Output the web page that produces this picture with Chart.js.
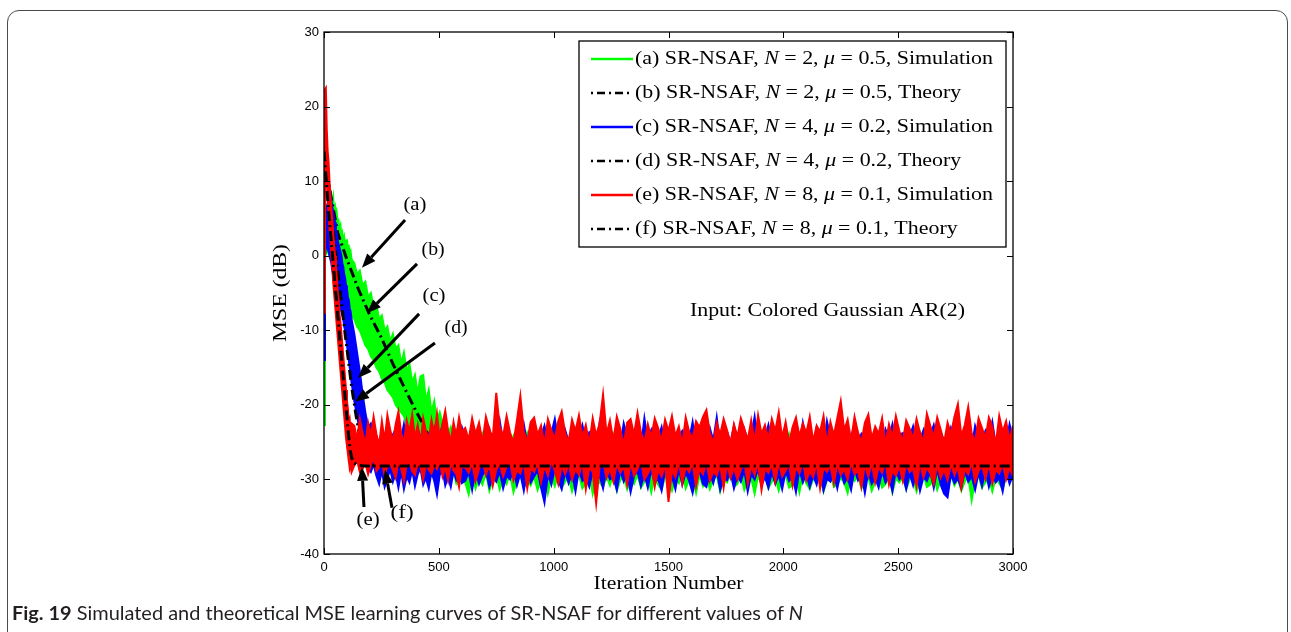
<!DOCTYPE html>
<html>
<head>
<meta charset="utf-8">
<script src="https://cdn.jsdelivr.net/npm/chart.js@4.4.1/dist/chart.umd.min.js"></script>
<style>
  html, body { margin: 0; padding: 0; background: #fff; }
  body { width: 1291px; height: 632px; overflow: hidden; position: relative; }
  .frame { position: absolute; left: 7px; top: 10px; width: 1281px; height: 700px;
           border: 1px solid #4a4a4a; border-radius: 12px; box-sizing: border-box; }
  #wrap { position: absolute; left: 0; top: 0; width: 1291px; height: 632px; }
  .caption { position: absolute; left: 12px; top: 601px; white-space: nowrap; color: #231f20;
             font-family: Lato, "Open Sans", "Liberation Sans", sans-serif; font-size: 19px;
             transform-origin: 0 50%; }
  .caption b { font-weight: bold; }
</style>
</head>
<body>
<div class="frame"></div>
<div id="wrap"><canvas id="chart" width="1291" height="632"></canvas></div>
<div class="caption" id="caption"><b>Fig. 19</b> Simulated and theoretical MSE learning curves of SR-NSAF for different values of <i>N</i></div>

<script>
// Iteration grid shared by the simulated curves: fine near the start, coarser later.
const iterSegments = [[0, 120, 4], [120, 600, 12], [600, 3000, 15]];
const iterations = [0];
for (const [a, b, step] of iterSegments) {
  for (let it = a + step; it <= b; it += step) iterations.push(it);
}

// Simulated curves are drawn as noise bands: upper and lower envelope (dB) per iteration.
// (a) SR-NSAF, N = 2, mu = 0.5, Simulation
const simAHigh = [
  -22.7,
  5, 6, 6.5, 7, 6.5, 7, 7.5, 6.5, 7, 7.8,
  6, 6.5, 5, 5.5, 4, 4.5, 3.5, 4, 2.5, 3,
  2, 2.5, 1.5, 2, 2.2, 1, 1.2, 0, 0.5, -0.5,
  -1, -2.5, -2, -4, -3.5, -5.5, -5, -7, -6.5, -8.5,
  -8, -10, -9.5, -11.5, -10.5, -12.5, -12, -14.5, -13, -15.5,
  -14.5, -17, -16, -18.5, -16.2, -16, -19.5, -18, -21, -19.5,
  -22, -21, -22.5, -22, -24, -23, -24.5, -23.5, -25, -24,
  -25.1, -24.3, -26.0, -24.8, -25.6, -23.9, -25.3, -24.6, -26.2, -24.0,
  -25.4, -24.7, -23.6, -25.9, -24.2, -25.5, -24.9, -26.1, -23.8, -25.2,
  -24.5, -25.8, -24.1, -26.3, -24.8, -25.0, -23.7, -25.7, -24.4, -26.0,
  -24.6, -25.3, -23.9, -25.8, -24.3, -26.2, -25.0, -24.2, -25.6, -23.8,
  -25.2, -24.7, -26.1, -24.0, -25.5, -24.9, -26.4, -23.6, -25.1, -24.5,
  -25.9, -24.2, -25.4, -23.8, -26.0, -24.6, -25.3, -24.1, -25.7, -24.8,
  -26.2, -24.4, -25.0, -23.9, -25.6, -24.7, -26.1, -24.3, -25.2, -24.0,
  -25.8, -24.6, -26.3, -24.1, -25.4, -23.7, -25.9, -24.8, -25.1, -24.2,
  -26.0, -24.5, -25.3, -23.8, -25.7, -24.9, -26.2, -24.0, -25.5, -24.6,
  -25.0, -26.1, -24.3, -25.6, -23.9, -25.8, -24.7, -26.3, -24.1, -25.2,
  -24.6, -25.9, -24.0, -25.4, -26.2, -24.4, -25.1, -23.7, -25.8, -24.8,
  -26.0, -24.2, -25.5, -24.9, -23.8, -25.7, -24.5, -26.1, -24.3, -25.3,
  -24.7, -25.9, -24.1, -26.3, -24.8, -25.0, -23.9, -25.6, -24.4, -26.0,
  -24.6, -25.2, -23.8, -25.8, -24.3, -26.1, -24.9, -25.4, -24.0, -25.7,
  -26.2, -24.5, -25.1, -23.9, -25.6, -24.7, -26.0, -24.2, -25.3, -24.8,
  -25.5, -24.1, -26.2, -24.6, -25.0, -23.8, -25.9, -24.4, -25.6, -24.9
];
const simALow = [
  -22.7,
  0, 1, 0.5, 1, 0.5, 0, 0.5, -0.5, -1, -0.5,
  -1.5, -2, -2.5, -2, -3, -3.5, -4, -3.5, -4.5, -4,
  -5, -4.5, -5.5, -5, -6, -6.5, -6, -7, -7.5, -8,
  -8.5, -9.5, -10, -11, -12, -12.5, -13.5, -14, -15, -15.5,
  -16.5, -17, -18, -18.5, -19, -20, -20.5, -21, -21.5, -22.5,
  -23, -23.5, -24, -24.5, -25, -25.5, -26, -26.5, -27, -27.5,
  -28, -28.5, -29, -29, -29.5, -30, -29, -30.5, -29.5, -30,
  -30.4, -32.0, -29.3, -31.2, -29.8, -30.7, -29.1, -31.5, -30.0, -29.5,
  -31.3, -29.7, -30.6, -29.2, -31.7, -30.1, -29.4, -31.0, -29.9, -30.8,
  -29.6, -31.4, -30.2, -29.0, -31.8, -29.5, -30.9, -29.3, -31.1, -30.3,
  -29.7, -31.6, -30.0, -29.4, -31.2, -30.5, -29.1, -31.9, -29.8, -30.4,
  -31.0, -29.6, -30.8, -29.2, -31.5, -30.1, -29.5, -31.3, -29.9, -30.6,
  -29.4, -31.1, -30.3, -29.7, -31.7, -29.3, -30.7, -31.4, -29.6, -30.2,
  -31.5, -29.8, -30.5, -29.1, -31.2, -30.0, -29.7, -31.8, -29.4, -30.9,
  -29.6, -31.3, -30.1, -29.5, -31.6, -29.9, -30.4, -29.2, -31.0, -30.6,
  -29.3, -31.4, -30.2, -29.8, -31.9, -29.5, -30.7, -29.1, -31.2, -30.3,
  -29.7, -31.5, -30.0, -29.4, -31.1, -30.8, -29.6, -31.7, -29.2, -30.5,
  -31.3, -29.9, -30.3, -29.5, -31.6, -30.1, -29.3, -31.0, -30.7, -29.8,
  -30.4, -31.8, -29.6, -30.2, -29.4, -31.2, -30.0, -29.7, -31.5, -30.3,
  -29.5, -31.1, -30.6, -29.2, -31.7, -29.9, -30.4, -29.6, -31.3, -30.0,
  -29.8, -31.6, -30.2, -29.3, -31.0, -30.7, -29.5, -31.4, -30.1, -29.7,
  -31.2, -29.4, -30.8, -29.9, -31.5, -30.3, -29.6, -32.8, -30.0, -29.5,
  -31.1, -30.4, -29.7, -31.6, -29.8, -30.5, -31.3, -29.4, -30.2, -29.9
];

// (c) SR-NSAF, N = 4, mu = 0.2, Simulation
const simCHigh = [
  -14,
  5, 6, 6.5, 7, 7.5, 8, 8.5, 7.5, 6.5, 6,
  5, 4.5, 3.5, 3, 2, 1.5, 1, 0.5, 0, -1,
  -1.5, -2.5, -3, -4, -4.5, -5.5, -6, -7, -7.5, -8.5,
  -10.5, -13, -15.5, -18.5, -21, -23, -22.5, -24,
  -24.2, -25.5, -23.6, -24.9, -22.8, -25.8, -24.0, -23.3, -25.2, -24.6,
  -22.6, -25.0, -23.8, -24.4, -25.6, -23.1, -24.7, -22.9, -25.3, -23.9,
  -24.5, -23.2, -25.7, -24.1, -22.7, -25.1, -23.7, -24.8, -23.4, -25.4, -24.3, -23.0,
  -24.4, -25.6, -23.5, -24.8, -22.9, -25.3, -24.1, -23.2, -25.8, -24.5,
  -22.1, -25.0, -23.9, -24.6, -25.5, -23.3, -24.9, -22.6, -25.2, -24.0,
  -23.6, -25.7, -24.3, -22.8, -25.1, -23.8, -21.9, -24.7, -25.4, -23.4,
  -24.9, -23.1, -25.6, -24.2, -22.7, -25.0, -23.7, -24.4, -25.9, -22.4,
  -24.6, -25.3, -23.2, -24.8, -23.9, -25.5, -22.5, -24.3, -25.1, -23.6,
  -24.0, -25.7, -21.8, -24.9, -23.4, -25.2, -24.5, -23.0, -25.8, -24.2,
  -22.9, -25.4, -24.1, -23.5, -25.0, -24.7, -22.3, -25.6, -23.8, -24.4,
  -25.3, -23.1, -24.8, -21.7, -25.5, -24.0, -23.6, -25.1, -22.8, -24.6,
  -25.7, -23.3, -24.9, -24.2, -21.6, -25.4, -23.9, -24.5, -22.7, -25.0,
  -23.4, -25.8, -24.3, -22.9, -25.2, -24.0, -23.5, -25.6, -22.4, -24.8,
  -24.1, -25.3, -23.0, -24.7, -25.9, -22.2, -24.4, -23.7, -25.1, -24.6,
  -23.2, -25.5, -24.2, -22.8, -25.0, -23.9, -24.6, -21.9, -25.4, -23.6,
  -24.8, -25.7, -23.3, -24.5, -22.6, -25.1, -24.0, -23.8, -25.6, -24.3,
  -22.9, -25.2, -24.7, -23.4, -25.8, -24.1, -22.7, -25.0, -23.6, -24.9,
  -25.5, -23.1, -24.4, -22.5, -25.3, -24.8, -23.7, -25.9, -22.8, -24.2,
  -25.0, -23.5, -24.6, -22.3, -25.4, -23.9, -24.7, -25.2, -22.6, -24.5
];
const simCLow = [
  -14,
  0, 1, 1.5, 1, 0.5, 0, -0.5, -1, -2, -2.5,
  -3, -4, -4.5, -5, -5.5, -6, -6.5, -7, -7.5, -8,
  -8.5, -9.5, -10, -11, -12, -13, -14, -15, -16, -17,
  -19.5, -21.5, -23.5, -25.5, -27, -28.5, -29, -28,
  -29.5, -30.6, -28.8, -31.0, -29.9, -28.6, -30.3, -29.2, -31.1, -28.9,
  -31.3, -29.6, -30.4, -28.7, -30.9, -29.3, -28.5, -30.7, -29.8, -31.2,
  -29.0, -30.2, -32.0, -29.4, -28.6, -30.8, -29.7, -31.0, -28.9, -30.1, -29.5, -30.5,
  -30.2, -29.0, -31.4, -28.7, -30.6, -29.4, -28.8, -31.0, -29.7, -30.3,
  -28.9, -31.2, -29.5, -30.0, -28.6, -30.8, -29.2, -31.5, -28.9, -30.4,
  -29.6, -28.8, -31.1, -33.1, -29.3, -30.7, -28.5, -30.1, -31.3, -29.0,
  -30.5, -29.1, -31.6, -28.7, -30.2, -29.8, -31.0, -28.9, -30.6, -29.4,
  -31.2, -28.6, -30.0, -29.7, -31.4, -28.8, -30.3, -29.2, -31.7, -29.5,
  -28.9, -30.9, -29.3, -31.1, -28.7, -30.4, -29.9, -31.5, -28.8, -30.1,
  -29.6, -31.3, -28.6, -30.7, -29.1, -30.2, -31.8, -29.4, -28.9, -30.6,
  -31.0, -29.2, -30.5, -28.7, -31.4, -29.8, -30.1, -28.9, -31.2, -29.5,
  -30.3, -28.8, -31.6, -29.3, -30.0, -28.6, -30.8, -29.7, -31.1, -29.0,
  -30.6, -29.4, -31.3, -28.9, -30.2, -29.6, -31.7, -28.7, -30.4, -29.1,
  -31.0, -29.5, -30.7, -28.8, -31.5, -29.9, -30.3, -29.2, -31.2, -28.9,
  -30.5, -29.7, -31.4, -28.6, -30.1, -29.3, -31.8, -29.0, -30.6, -29.8,
  -31.1, -28.9, -30.4, -29.6, -31.6, -28.7, -30.0, -29.4, -31.3, -29.2,
  -30.8, -28.8, -31.5, -29.7, -30.2, -29.0, -31.1, -28.6, -30.7, -31.9,
  -32.4, -29.3, -30.5, -29.9, -31.2, -28.9, -30.3, -29.6, -31.4, -29.1,
  -30.9, -28.7, -31.0, -29.5, -30.4, -29.8, -31.6, -28.9, -30.6, -29.4
];

// (e) SR-NSAF, N = 8, mu = 0.1, Simulation
const simEHigh = [
  -7.6,
  22.3, 22.5, 17, 14, 12.5, 10, 8, 6.5, 5, 3,
  1.5, 0, -1.5, -3, -5, -6, -8, -9, -10.5, -12,
  -13.5, -15, -16.5, -18, -19.5, -20.5, -22.5, -22, -23.5, -22.5,
  -22.8, -24.6, -21.9, -23.7, -25.2, -22.4, -24.1, -21.6, -23.9, -25.4,
  -22.2, -24.8, -21.4, -23.3, -24.9, -22.6, -20.9, -23.8, -25.1, -22.1,
  -23.6, -21.3, -24.4, -22.7, -25.3, -21.8, -23.5, -24.7, -22.0, -23.9,
  -21.2, -24.5, -22.5, -20.8, -23.4, -25.0, -22.3, -24.2, -21.7, -23.6,
  -23.1, -24.7, -21.8, -23.9, -22.4, -25.0, -21.6, -23.3, -24.4, -18.4,
  -22.9, -24.2, -21.5, -23.7, -25.1, -22.1, -18.8, -23.6, -24.9, -22.3,
  -21.7, -24.0, -22.8, -25.3, -21.9, -23.4, -24.6, -22.2, -20.9, -23.8,
  -25.0, -22.0, -23.5, -21.4, -24.3, -22.7, -25.2, -21.8, -24.1, -22.5,
  -18.6, -23.9, -22.1, -24.8, -21.6, -23.2, -25.4, -22.4, -21.9, -24.0,
  -21.1, -23.7, -25.0, -22.6, -24.4, -21.8, -23.1, -24.9, -22.0, -23.5,
  -21.5, -24.2, -22.9, -25.3, -21.7, -23.6, -24.5, -22.2, -23.0, -21.6,
  -20.7, -23.8, -25.1, -22.4, -24.0, -21.9, -23.4, -25.2, -22.6, -24.3,
  -21.8, -23.2, -24.7, -22.1, -25.0, -21.4, -23.9, -22.7, -24.6, -21.9,
  -23.5, -21.0, -24.4, -22.3, -25.1, -23.0, -21.7, -24.2, -22.5, -23.8,
  -21.6, -24.9, -22.8, -23.6, -21.5, -25.2, -22.3, -24.1, -21.8, -19.5,
  -23.4, -22.0, -24.8, -21.6, -23.7, -25.0, -22.4, -21.3, -24.5, -22.9,
  -23.9, -21.8, -25.2, -22.6, -24.3, -21.5, -23.5, -24.9, -22.1, -23.2,
  -24.6, -21.9, -23.7, -25.0, -21.2, -22.8, -24.4, -21.7, -23.3, -25.1,
  -22.4, -23.9, -21.6, -19.9, -24.2, -22.7, -20.3, -23.8, -25.0, -21.8,
  -23.1, -24.5, -21.7, -22.9, -25.3, -21.5, -23.6, -22.2, -24.7, -22.8
];
const simELow = [
  -7.6,
  15, 12, 10, 7.5, 5.5, 3.5, 2, 0, -1.5, -3.5,
  -5, -6.5, -8, -9.5, -11, -12.5, -14, -15.5, -17, -18.5,
  -20, -21.5, -23, -24.5, -25.5, -26.5, -27.5, -28.5, -28, -29,
  -28.1, -27.4, -29.0, -28.6, -27.8, -29.3, -28.0, -27.2, -28.9, -28.4,
  -27.6, -29.5, -28.2, -27.9, -28.8, -29.8, -27.5, -28.5, -30.2, -28.0,
  -27.7, -28.9, -29.4, -27.8, -28.3, -30.0, -27.9, -28.7, -29.2, -28.1,
  -28.6, -27.5, -29.6, -28.4, -30.1, -27.7, -28.8, -29.3, -31.0, -28.2,
  -28.4, -29.1, -27.8, -30.2, -28.6, -27.5, -29.4, -28.0, -30.8, -28.7,
  -27.9, -29.6, -28.3, -27.6, -30.1, -28.8, -29.2, -27.7, -31.2, -28.5,
  -29.0, -27.8, -30.4, -28.2, -29.5, -27.4, -28.9, -30.6, -28.1, -29.3,
  -27.9, -30.0, -28.6, -29.4, -27.7, -31.3, -28.4, -29.0, -33.2, -28.3,
  -27.6, -29.8, -28.5, -30.3, -27.9, -29.1, -28.2, -30.7, -27.8, -29.5,
  -28.6, -27.5, -30.0, -29.2, -28.1, -31.0, -28.7, -29.6, -27.9, -33.0,
  -28.8, -29.7, -27.6, -30.5, -28.3, -29.0, -27.8, -30.9, -28.6, -29.3,
  -27.7, -30.2, -28.9, -29.5, -28.0, -31.1, -27.9, -29.8, -28.4, -30.0,
  -28.7, -27.6, -30.6, -28.2, -29.4, -27.8, -31.4, -28.5, -29.1, -28.0,
  -30.3, -27.7, -29.6, -28.8, -27.9, -30.8, -28.3, -29.2, -27.6, -30.1,
  -28.9, -29.7, -27.8, -31.2, -28.4, -29.0, -28.1, -30.5, -27.9, -29.4,
  -28.6, -30.0, -27.7, -29.3, -28.8, -31.0, -28.0, -29.6, -27.8, -30.4,
  -28.3, -29.1, -27.6, -30.7, -28.9, -29.5, -28.2, -30.2, -27.9, -29.0,
  -28.5, -30.9, -27.8, -29.7, -28.4, -29.2, -30.6, -28.0, -29.8, -28.7,
  -30.1, -27.9, -29.4, -28.3, -31.1, -28.6, -29.3, -27.7, -30.3, -28.9,
  -28.1, -29.9, -27.8, -30.5, -28.7, -29.2, -27.9, -30.0, -28.4, -29.6
];

// Theoretical learning curves (b), (d), (f)
const theoryIterB = [0, 30, 60, 100, 150, 200, 250, 300, 350, 400, 430, 460, 490, 520, 560, 600, 3000];
const theoryB     = [14, 8, 3, -0.5, -4.5, -8, -11, -14.5, -17.7, -20.8, -22.5, -24.5, -26.3, -27.6, -28.1, -28.2, -28.2];
const theoryIterD = [0, 30, 60, 90, 120, 140, 160, 180, 200, 230, 3000];
const theoryD     = [14, 6, -2, -10, -17.5, -21.5, -25, -27.2, -28, -28.2, -28.2];
const theoryIterF = [0, 20, 40, 60, 80, 95, 105, 115, 125, 145, 180, 3000];
const theoryF     = [14, 6, -1, -8, -15, -20, -23.5, -26.3, -27.6, -28.1, -28.2, -28.2];

// Axis ticks
const xTicks = [0, 500, 1000, 1500, 2000, 2500, 3000];
const yTicks = [-40, -30, -20, -10, 0, 10, 20, 30];

// Legend text: [text, italic]
const legendLabels = [
  [["(a) SR-NSAF, ", 0], ["N", 1], [" = 2, ", 0], ["\u03BC", 1], [" = 0.5, Simulation", 0]],
  [["(b) SR-NSAF, ", 0], ["N", 1], [" = 2, ", 0], ["\u03BC", 1], [" = 0.5, Theory", 0]],
  [["(c) SR-NSAF, ", 0], ["N", 1], [" = 4, ", 0], ["\u03BC", 1], [" = 0.2, Simulation", 0]],
  [["(d) SR-NSAF, ", 0], ["N", 1], [" = 4, ", 0], ["\u03BC", 1], [" = 0.2, Theory", 0]],
  [["(e) SR-NSAF, ", 0], ["N", 1], [" = 8, ", 0], ["\u03BC", 1], [" = 0.1, Simulation", 0]],
  [["(f) SR-NSAF, ", 0], ["N", 1], [" = 8, ", 0], ["\u03BC", 1], [" = 0.1, Theory", 0]]
];
const legendKeys = ["a", "b", "c", "d", "e", "f"];

// Curve callouts in data units: label position, arrow tail, arrow tip
const callouts = [
  { text: "(a)", label: [396, 6.8],   tail: [353, 4.8],   tip: [165, -1.6] },
  { text: "(b)", label: [475, 0.8],   tail: [405, -1.1],  tip: [187, -7.7] },
  { text: "(c)", label: [479, -5.4],  tail: [414, -7.8],  tip: [148, -16.4] },
  { text: "(d)", label: [575, -9.7],  tail: [483, -11.7], tip: [135, -19.6] },
  { text: "(e)", label: [192, -35.4], tail: [174, -33.7], tip: [165, -28.3] },
  { text: "(f)", label: [340, -34.5], tail: [296, -33.8], tip: [266, -28.7] }
];
const noteText = "Input: Colored Gaussian AR(2)";
const notePos = [2192, -7.4];

const SERIF = '"Liberation Serif", "DejaVu Serif", serif';
const SANS = '"Liberation Sans", Arial, sans-serif';
const DASHDOT = [10, 4, 2, 4];

const pts = (xs, ys) => xs.map((x, i) => ({ x: x, y: ys[i] }));

function band(key, high, low, color, order) {
  return [
    { key: key, data: pts(iterations, high), borderColor: color, backgroundColor: color,
      borderWidth: 2, fill: "+1", order: order },
    { key: null, data: pts(iterations, low), borderColor: color, borderWidth: 2, fill: false, order: order }
  ];
}
function theory(key, xs, ys, order) {
  return { key: key, data: pts(xs, ys), borderColor: "#000", borderWidth: 3, borderDash: DASHDOT,
           fill: false, order: order };
}

const datasets = [
  ...band("a", simAHigh, simALow, "#00ff00", 5),
  theory("b", theoryIterB, theoryB, 4),
  ...band("c", simCHigh, simCLow, "#0000ff", 3),
  theory("d", theoryIterD, theoryD, 2),
  ...band("e", simEHigh, simELow, "#ff0000", 1),
  theory("f", theoryIterF, theoryF, 0)
];
datasets.forEach(d => { d.pointRadius = 0; d.tension = 0; });

// text stretched horizontally to a given width
function fitText(ctx, text, x, y, width, align) {
  const w = ctx.measureText(text).width;
  const k = width / w;
  ctx.save();
  ctx.translate(x, y);
  ctx.scale(k, 1);
  ctx.textAlign = "left";
  const x0 = align === "center" ? -w / 2 : 0;
  ctx.fillText(text, x0, 0);
  ctx.restore();
}

function richWidth(ctx, parts, size) {
  let total = 0;
  for (const [t, it] of parts) {
    ctx.font = (it ? "italic " : "") + size + "px " + SERIF;
    total += ctx.measureText(t).width;
  }
  return total;
}

function drawRich(ctx, parts, x, y, size, k) {
  ctx.save();
  ctx.translate(x, y);
  ctx.scale(k, 1);
  let cx = 0;
  for (const [t, it] of parts) {
    ctx.font = (it ? "italic " : "") + size + "px " + SERIF;
    ctx.fillText(t, cx, 0);
    cx += ctx.measureText(t).width;
  }
  ctx.restore();
}

function drawArrow(ctx, x1, y1, x2, y2) {
  const ang = Math.atan2(y2 - y1, x2 - x1);
  const headLen = 14, headHalf = 5.5;
  const bx = x2 - headLen * Math.cos(ang), by = y2 - headLen * Math.sin(ang);
  ctx.beginPath();
  ctx.moveTo(x1, y1);
  ctx.lineTo(bx, by);
  ctx.lineWidth = 3;
  ctx.strokeStyle = "#000";
  ctx.stroke();
  ctx.beginPath();
  ctx.moveTo(x2, y2);
  ctx.lineTo(bx + headHalf * Math.sin(ang), by - headHalf * Math.cos(ang));
  ctx.lineTo(bx - headHalf * Math.sin(ang), by + headHalf * Math.cos(ang));
  ctx.closePath();
  ctx.fillStyle = "#000";
  ctx.fill();
}

const decorations = {
  id: "decorations",
  afterDatasetsDraw(chart) {
    const ctx = chart.ctx;
    const a = chart.chartArea;
    const xs = chart.scales.x, ys = chart.scales.y;
    ctx.save();

    // axes box with inward ticks on all sides
    ctx.strokeStyle = "#000";
    ctx.lineWidth = 1.3;
    ctx.strokeRect(a.left, a.top, a.right - a.left, a.bottom - a.top);
    const tl = 6;
    ctx.beginPath();
    for (const t of xTicks) {
      const px = Math.round(xs.getPixelForValue(t)) + 0.5;
      ctx.moveTo(px, a.bottom); ctx.lineTo(px, a.bottom - tl);
      ctx.moveTo(px, a.top); ctx.lineTo(px, a.top + tl);
    }
    for (const t of yTicks) {
      const py = Math.round(ys.getPixelForValue(t)) + 0.5;
      ctx.moveTo(a.left, py); ctx.lineTo(a.left + tl, py);
      ctx.moveTo(a.right, py); ctx.lineTo(a.right - tl, py);
    }
    ctx.lineWidth = 1;
    ctx.stroke();

    // callout arrows and labels
    for (const c of callouts) {
      drawArrow(ctx,
        xs.getPixelForValue(c.tail[0]), ys.getPixelForValue(c.tail[1]),
        xs.getPixelForValue(c.tip[0]), ys.getPixelForValue(c.tip[1]));
      ctx.fillStyle = "#000";
      ctx.font = "19px " + SERIF;
      ctx.textBaseline = "middle";
      fitText(ctx, c.text, xs.getPixelForValue(c.label[0]), ys.getPixelForValue(c.label[1]), 23, "center");
    }

    // annotation text
    ctx.font = "19px " + SERIF;
    ctx.textBaseline = "middle";
    fitText(ctx, noteText, xs.getPixelForValue(notePos[0]), ys.getPixelForValue(notePos[1]), 275, "center");

    // legend box; one common horizontal stretch for all rows
    const lx = a.right - 434, ly = a.top + 9, lw = 427, lh = 206;
    ctx.fillStyle = "#fff";
    ctx.fillRect(lx, ly, lw, lh);
    ctx.strokeStyle = "#000";
    ctx.lineWidth = 1.3;
    ctx.strokeRect(lx, ly, lw, lh);
    const rowH = 34;
    const k = 358 / richWidth(ctx, legendLabels[0], 19);
    legendLabels.forEach((parts, i) => {
      const ds = chart.data.datasets.find(d => d.key === legendKeys[i]);
      const cy = ly + 18 + i * rowH;
      ctx.beginPath();
      ctx.setLineDash(ds.borderDash ? [2, 4, 8, 4] : []);
      ctx.strokeStyle = ds.borderColor;
      ctx.lineWidth = 2.5;
      ctx.moveTo(lx + 12, cy); ctx.lineTo(lx + 54, cy);
      ctx.stroke();
      ctx.setLineDash([]);
      ctx.fillStyle = "#000";
      ctx.textBaseline = "middle";
      drawRich(ctx, parts, lx + 56, cy, 19, k);
    });

    // axis titles
    ctx.fillStyle = "#000";
    ctx.font = "19px " + SERIF;
    ctx.textBaseline = "middle";
    fitText(ctx, "Iteration Number", (a.left + a.right) / 2, a.bottom + 30, 150, "center");
    ctx.translate(a.left - 43, (a.top + a.bottom) / 2);
    ctx.rotate(-Math.PI / 2);
    fitText(ctx, "MSE (dB)", 0, 0, 98, "center");
    ctx.restore();
  }
};

new Chart(document.getElementById("chart"), {
  type: "line",
  data: { datasets: datasets },
  options: {
    responsive: false,
    animation: false,
    events: [],
    layout: { padding: { left: 0, top: 32, right: 278, bottom: 0 } },
    plugins: { legend: { display: false }, tooltip: { enabled: false }, title: { display: false },
               filler: { propagate: false } },
    scales: {
      x: {
        type: "linear", min: 0, max: 3000,
        afterBuildTicks: s => { s.ticks = xTicks.map(v => ({ value: v })); },
        afterFit: s => { s.height = 78; },
        grid: { display: false, drawTicks: false },
        border: { display: false },
        ticks: { color: "#000", padding: 6, font: { family: SANS, size: 13 }, maxRotation: 0,
                 callback: v => String(v) }
      },
      y: {
        type: "linear", min: -40, max: 30,
        afterBuildTicks: s => { s.ticks = yTicks.map(v => ({ value: v })); },
        afterFit: s => { s.width = 324; },
        grid: { display: false, drawTicks: false },
        border: { display: false },
        ticks: { color: "#000", padding: 5, font: { family: SANS, size: 13 },
                 callback: v => String(v) }
      }
    }
  },
  plugins: [decorations]
});

// caption stretched to the text column width
const cap = document.getElementById("caption");
const capW = cap.getBoundingClientRect().width;
cap.style.transform = "scaleX(" + (791 / capW) + ")";
</script>
</body>
</html>
